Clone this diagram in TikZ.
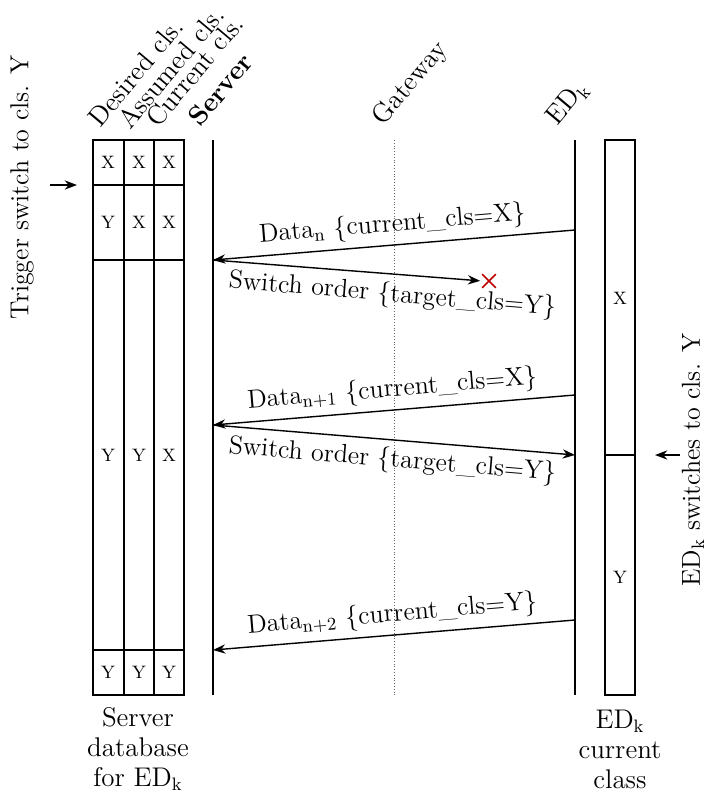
\documentclass[tikz,border=0pt]{standalone}
\usepackage{amsmath}
\usepackage{xcolor}
\usepackage{tikz}
\usetikzlibrary{
	arrows.meta,shapes.misc
}

\begin{document}
\begin{tikzpicture}[x=0.5pt,y=-0.5pt,font=\fontsize{13}{14}\selectfont,>=Stealth,
	life/.style={line width=0.7pt},
	hdr/.style={rotate=50,anchor=base west,inner sep=0pt,font=\fontsize{13.5}{15}\selectfont},
	cell/.style={font=\fontsize{9}{10}\selectfont},
	msg/.style={->,line width=0.7pt}]
		\useasboundingbox (0,0) rectangle (707,799);
		%
		\coordinate (srvT) at (213,140);
		\coordinate (srvB) at (213,695);
		\coordinate (gwT) at (394,140);
		\coordinate (gwB) at (394,695);
		\coordinate (edT) at (575,140);
		\coordinate (edB) at (575,695);
		\draw[life] (srvT) -- (srvB);
		\draw[densely dotted,thin,black!60] (gwT) -- (gwB);
		\draw[life] (edT) -- (edB);
		%
		\node[hdr] (hDes) at (100,129) {Desired cls.};
		\node[hdr] (hAss) at (130,131) {Assumed cls.};
		\node[hdr] (hCur) at (158,129) {Current cls.};
		\node[hdr,font=\fontsize{13.5}{15}\selectfont\bfseries] (hSrv) at (200,128) {Server};
		\node[hdr] (hGw) at (383,127) {Gateway};
		\node[hdr] (hEd) at (557,127) {ED$_\mathrm{k}$};
		%
		\draw[life] (93,140) rectangle (184,695);
		\draw[life] (124,140) -- (124,695) (154,140) -- (154,695);
		\draw[life] (93,185) -- (184,185) (93,260) -- (184,260) (93,650) -- (184,650);
		\foreach \y/\a/\b/\c in {162/X/X/X,222/Y/X/X,455/Y/Y/X,672/Y/Y/Y} {
			\node[cell] (d\y) at (108,\y) {\a};
			\node[cell] (a\y) at (139,\y) {\b};
			\node[cell] (c\y) at (169,\y) {\c};
		}
		%
		\draw[life] (605,140) rectangle (635,695);
		\draw[life] (605,455) -- (635,455);
		\node[cell] (kX) at (620,298) {X};
		\node[cell] (kY) at (620,577) {Y};
		%
		\coordinate (e1) at (575,230);
		\coordinate (s1) at (213,260);
		\coordinate (e2) at (575,290);
		\coordinate (e3) at (575,395);
		\coordinate (s3) at (213,425);
		\coordinate (e4) at (575,455);
		\coordinate (e5) at (575,620);
		\coordinate (s5) at (213,650);
		\node[cross out,draw=red!75!black,line width=0.8pt,minimum size=6pt,inner sep=0pt] (lost) at (489,281) {};
		%
		\path[msg]
			(e1) edge node[above,sloped] {Data$_\mathrm{n}$ \{current\_cls=X\}} (s1)
			(s1) edge[shorten >=1pt] (lost.west)
			(e3) edge node[above,sloped] {Data$_\mathrm{n+1}$ \{current\_cls=X\}} (s3)
			(s3) edge node[below,sloped] {Switch order \{target\_cls=Y\}} (e4)
			(e5) edge node[above,sloped] {Data$_\mathrm{n+2}$ \{current\_cls=Y\}} (s5);
		\path (s1) -- node[below,sloped] {Switch order \{target\_cls=Y\}} (e2);
		%
		\coordinate (trigA) at (50,185);
		\coordinate (trigB) at (77,185);
		\draw[msg] (trigA) -- (trigB);
		\node[rotate=90] (trig) at (22,187) {Trigger switch to cls. Y};
		\coordinate (swA) at (680,455);
		\coordinate (swB) at (655,455);
		\draw[msg] (swA) -- (swB);
		\node[rotate=90] (sw) at (693,460) {ED$_\mathrm{k}$ switches to cls. Y};
		%
		\node[align=center,font=\fontsize{13.5}{15}\selectfont] (dbLbl) at (138,749) {Server\\database\\for ED$_\mathrm{k}$};
		\node[align=center,font=\fontsize{13.5}{15}\selectfont] (clsLbl) at (620,749) {ED$_\mathrm{k}$\\current\\class};
	\end{tikzpicture}
\end{document}
